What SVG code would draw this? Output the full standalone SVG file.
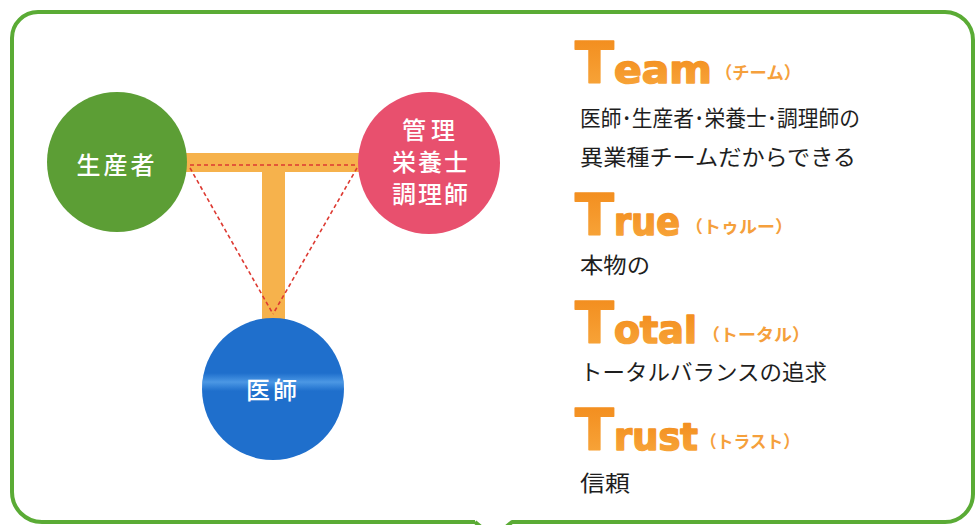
<svg xmlns="http://www.w3.org/2000/svg" width="979" height="525" viewBox="0 0 979 525">
  <defs>
    <style>
      .node-label { font-family: "Noto Sans CJK JP", "Noto Sans", sans-serif; font-size: 24px; font-weight: 500; fill: #ffffff; text-anchor: middle; }
      .big { font-family: "DejaVu Sans", "Liberation Sans", sans-serif; font-weight: bold; fill: url(#orangeGrad); stroke: url(#orangeGrad); stroke-width: 1.6; stroke-linejoin: round; }
      .kana { font-family: "Noto Sans CJK JP", sans-serif; font-size: 17px; font-weight: bold; fill: #f5a03c; }
      .body { font-family: "Noto Sans CJK JP", sans-serif; font-size: 22px; font-weight: 400; fill: #1e1e1e; }
      .bar { fill: #f6b24c; }
      .dash { stroke: #dd3a32; stroke-width: 1.6; stroke-dasharray: 4 3; fill: none; }
    </style>
    <linearGradient id="orangeGrad" x1="0" y1="0" x2="0" y2="1">
      <stop offset="0" stop-color="#f28a1a"/>
      <stop offset="1" stop-color="#f8a83e"/>
    </linearGradient>
    <linearGradient id="band" x1="0" y1="0" x2="0" y2="1">
      <stop offset="0" stop-color="#5aa8f0" stop-opacity="0"/>
      <stop offset="0.5" stop-color="#5fa9ee" stop-opacity="0.7"/>
      <stop offset="1" stop-color="#5aa8f0" stop-opacity="0"/>
    </linearGradient>
    <clipPath id="blueClip"><circle cx="273" cy="389" r="71"/></clipPath>
  </defs>

  <rect x="0" y="0" width="979" height="525" fill="#ffffff"/>

  <g id="frame">
    <path d="M 475 522 L 42 522 A 30 30 0 0 1 12 492 L 12 38 A 26 26 0 0 1 38 12 L 945 12 A 28 28 0 0 1 973 40 L 973 494 A 28 28 0 0 1 945 522 L 512 522 L 500 532 M 475 522 L 487 532" fill="none" stroke="#5aab35" stroke-width="4" stroke-linejoin="round"/>
  </g>

  <g id="connectors">
    <rect class="bar" x="186" y="153" width="174" height="19"/>
    <rect class="bar" x="262" y="170" width="23" height="150"/>
    <line class="dash" x1="190" y1="165" x2="357" y2="165"/>
    <line class="dash" x1="190" y1="168" x2="273" y2="314"/>
    <line class="dash" x1="357" y1="168" x2="273" y2="314"/>
  </g>

  <g id="node-producer">
    <circle cx="117" cy="162" r="70" fill="#5c9e35"/>
    <text class="node-label" x="117" y="174" letter-spacing="3">生産者</text>
  </g>

  <g id="node-dietitian">
    <circle cx="429" cy="163" r="71" fill="#e8506e"/>
    <text class="node-label" x="431" y="139" font-size="22" letter-spacing="5">管理</text>
    <text class="node-label" x="431" y="171" font-size="22" letter-spacing="2">栄養士</text>
    <text class="node-label" x="431" y="203" font-size="22" letter-spacing="2">調理師</text>
  </g>

  <g id="node-doctor">
    <circle cx="273" cy="389" r="71" fill="#1f6fcc"/>
    <rect x="200" y="373" width="150" height="18" fill="url(#band)" clip-path="url(#blueClip)"/>
    <text class="node-label" x="273" y="399" font-size="26" letter-spacing="3">医師</text>
  </g>

  <g id="item-team">
    <text class="big" x="575" y="83" font-size="57">T</text>
    <text class="big" x="614" y="83" font-size="38" textLength="98" lengthAdjust="spacingAndGlyphs">eam</text>
    <text class="kana" x="715" y="79" textLength="86" lengthAdjust="spacingAndGlyphs">（チーム）</text>
    <text class="body" x="580" y="126" textLength="280" lengthAdjust="spacingAndGlyphs">医師･生産者･栄養士･調理師の</text>
    <text class="body" x="580" y="165" textLength="276" lengthAdjust="spacingAndGlyphs">異業種チームだからできる</text>
  </g>

  <g id="item-true">
    <text class="big" x="575" y="235" font-size="57">T</text>
    <text class="big" x="614" y="235" font-size="38" textLength="66" lengthAdjust="spacingAndGlyphs">rue</text>
    <text class="kana" x="685" y="233" textLength="108" lengthAdjust="spacingAndGlyphs">（トゥルー）</text>
    <text class="body" x="580" y="273" textLength="70" lengthAdjust="spacingAndGlyphs">本物の</text>
  </g>

  <g id="item-total">
    <text class="big" x="575" y="343" font-size="57">T</text>
    <text class="big" x="614" y="343" font-size="38" textLength="83" lengthAdjust="spacingAndGlyphs">otal</text>
    <text class="kana" x="702" y="341" textLength="108" lengthAdjust="spacingAndGlyphs">（トータル）</text>
    <text class="body" x="580" y="380" textLength="247" lengthAdjust="spacingAndGlyphs">トータルバランスの追求</text>
  </g>

  <g id="item-trust">
    <text class="big" x="575" y="450" font-size="57">T</text>
    <text class="big" x="614" y="450" font-size="38" textLength="84" lengthAdjust="spacingAndGlyphs">rust</text>
    <text class="kana" x="700" y="448" textLength="100" lengthAdjust="spacingAndGlyphs">（トラスト）</text>
    <text class="body" x="580" y="491" textLength="50" lengthAdjust="spacingAndGlyphs">信頼</text>
  </g>
</svg>
